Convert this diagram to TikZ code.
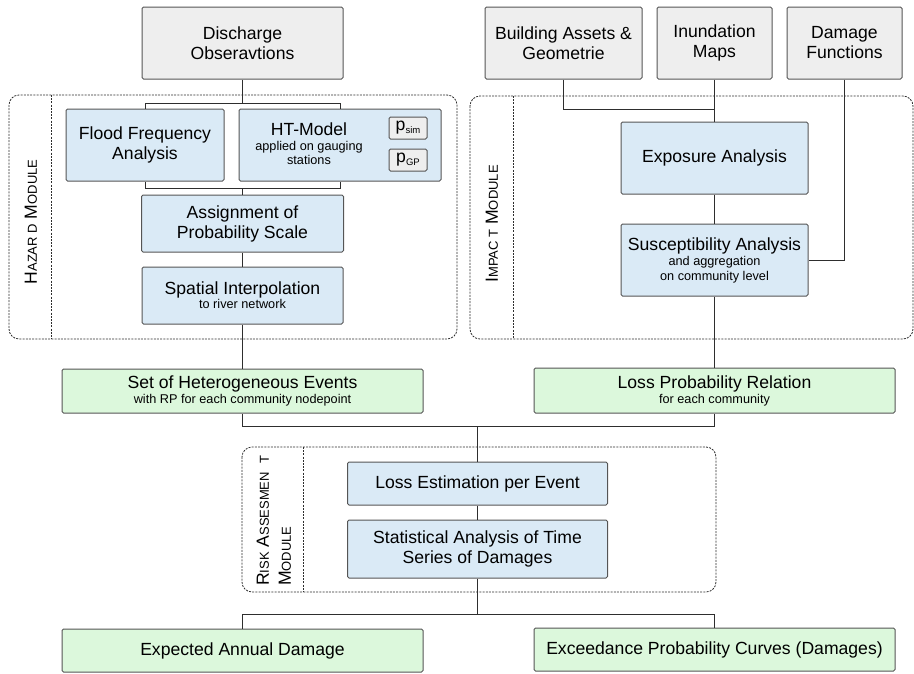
\documentclass[tikz,border=0pt]{standalone}
\usepackage{fontspec}
\setmainfont{Liberation Sans}
\definecolor{inputfill}{HTML}{EEEEEE}
\definecolor{procfill}{HTML}{DAEAF6}
\definecolor{resfill}{HTML}{DCF8DC}
\definecolor{edgecol}{HTML}{555555}
\definecolor{linecol}{HTML}{2E2E2E}
\newcommand{\bigtxt}{\fontsize{17.6}{20}\selectfont}
\newcommand{\smalltxt}{\fontsize{12.7}{14.3}\selectfont}
\newcommand{\captxt}{\fontsize{17.6}{22}\selectfont}
\newcommand{\sctxt}{\fontsize{13}{22}\selectfont}
\newcommand{\subtxt}[1]{\raisebox{-3pt}{\fontsize{9.5}{10}\selectfont #1}}

\begin{document}
\begin{tikzpicture}[x=1pt,y=-1pt,
  box/.style={draw=edgecol, line width=1pt, rounded corners=1.5pt,
    align=center, inner sep=0pt, font=\bigtxt, text=black},
  inbox/.style={box, fill=inputfill},
  procbox/.style={box, fill=procfill},
  resbox/.style={box, fill=resfill},
  module/.style={draw=linecol, dash pattern=on 2pt off 1.2pt,
    line width=0.8pt, rounded corners=10pt},
  divider/.style={draw=linecol, dash pattern=on 2pt off 1.2pt, line width=0.8pt},
  wire/.style={draw=linecol, line width=1pt},
  modlabel/.style={rotate=90, align=left, inner sep=0pt, font=\captxt}]

\useasboundingbox (0,0) rectangle (914,673);

% module frames
\draw[module] (9,95) rectangle (457,339);
\draw[divider] (51,95) -- (51,339);
\draw[module] (470,96) rectangle (913,339);
\draw[divider] (513,96) -- (513,339);
\draw[module] (242,447) rectangle (716,592);
\draw[divider] (303,447) -- (303,592);

\node[modlabel] (hzl) at (31,222) {H{\sctxt AZAR D} M{\sctxt ODULE}};
\node[modlabel] (iml) at (492,224) {I{\sctxt MPAC T} M{\sctxt ODULE}};
\node[modlabel, anchor=west] (rkl) at (274,586)
  {R{\sctxt ISK} A{\sctxt SSESMEN\hspace{8pt}T}\\M{\sctxt ODULE}};

% input data
\node[inbox, minimum width=201, minimum height=72] (dis) at (242.5,43) {Discharge\\Obseravtions};
\node[inbox, minimum width=157, minimum height=72] (bld) at (563.5,43) {Building Assets \&\\Geometrie};
\node[inbox, minimum width=115, minimum height=72] (inu) at (714.5,43) {Inundation\\Maps};
\node[inbox, minimum width=115, minimum height=72] (dmg) at (844.5,43) {Damage\\Functions};

% hazard module
\node[procbox, minimum width=158, minimum height=72] (ffa) at (145,145) {Flood Frequency\\Analysis};
\node[procbox, minimum width=202, minimum height=72] (ht) at (340,145) {};
\node[inner sep=0pt, align=center, font=\bigtxt] (httx) at (309,144)
  {HT-Model\\[-5pt]{\smalltxt applied on gauging}\\[-6pt]{\smalltxt stations}};
\node[inbox, minimum width=38, minimum height=22] (psim) at (408,128) {p\subtxt{sim}};
\node[inbox, minimum width=38, minimum height=22] (pgp) at (408,160) {p\subtxt{GP}};
\node[procbox, minimum width=202, minimum height=57] (asg) at (242.5,223.5) {Assignment of\\Probability Scale};
\node[procbox, minimum width=201, minimum height=57] (spi) at (242.5,295.5)
  {Spatial Interpolation\\[-6pt]{\smalltxt to river network}};

% impact module
\node[procbox, minimum width=187, minimum height=72] (exp) at (714.5,158) {Exposure Analysis};
\node[procbox, minimum width=187, minimum height=72] (sus) at (714.5,260)
  {Susceptibility Analysis\\[-5pt]{\smalltxt and aggregation}\\[-5pt]{\smalltxt on community level}};

% intermediate results
\node[resbox, minimum width=361, minimum height=44] (set) at (242.5,391)
  {Set of Heterogeneous Events\\[-5pt]{\smalltxt with RP for each community nodepoint}};
\node[resbox, minimum width=361, minimum height=45] (lpr) at (714.5,390.5)
  {Loss Probability Relation\\[-5pt]{\smalltxt for each community}};

% risk assessment module
\node[procbox, minimum width=260, minimum height=43] (lpe) at (477.5,483.5) {Loss Estimation per Event};
\node[procbox, minimum width=260, minimum height=58] (sta) at (477.5,549) {Statistical Analysis of Time\\Series of Damages};

% final results
\node[resbox, minimum width=361, minimum height=43] (ead) at (242.5,650.5) {Expected Annual Damage};
\node[resbox, minimum width=361, minimum height=43] (epc) at (714.5,649.5) {Exceedance Probability Curves (Damages)};

% junction points
\coordinate (tj) at (242.5,103);
\coordinate (bj) at (242.5,188);
\coordinate (ij) at (714.5,109);
\coordinate (rj) at (477.5,426);
\coordinate (oj) at (477.5,614);

% connectors: hazard
\draw[wire] (dis.south) -- (tj);
\draw[wire] (ffa.north) -- (ffa.north |- tj) -- (ht.north |- tj) -- (ht.north);
\draw[wire] (ffa.south) -- (ffa.south |- bj) -- (ht.south |- bj) -- (ht.south);
\draw[wire] (bj) -- (asg.north);
\draw[wire] (asg.south) -- (spi.north);
\draw[wire] (spi.south) -- (set.north);

% connectors: impact
\draw[wire] (bld.south) -- (bld.south |- ij) -- (ij);
\draw[wire] (inu.south) -- (exp.north);
\draw[wire] (exp.south) -- (sus.north);
\draw[wire] (dmg.south) |- (sus.east);
\draw[wire] (sus.south) -- (lpr.north);

% connectors: risk assessment
\draw[wire] (set.south) -- (set.south |- rj) -- (lpr.south |- rj) -- (lpr.south);
\draw[wire] (rj) -- (lpe.north);
\draw[wire] (lpe.south) -- (sta.north);
\draw[wire] (sta.south) -- (oj);
\draw[wire] (ead.north) -- (ead.north |- oj) -- (epc.north |- oj) -- (epc.north);
\end{tikzpicture}
\end{document}
